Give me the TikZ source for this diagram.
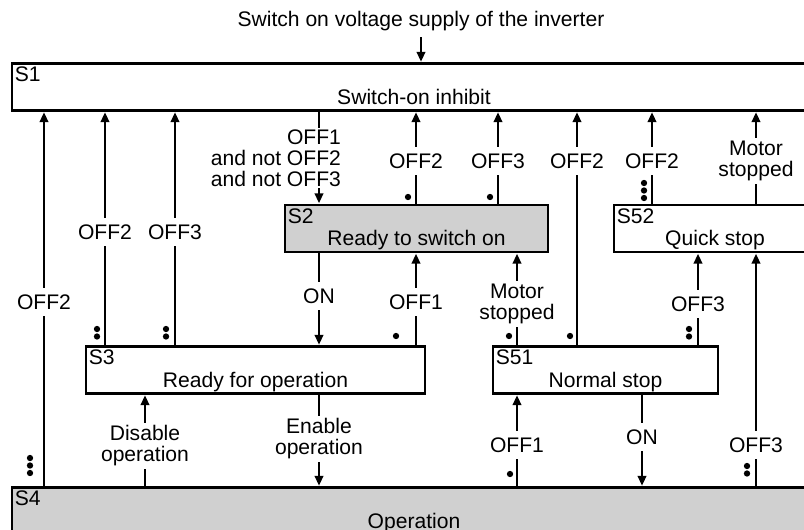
\documentclass[tikz,border=0pt]{standalone}
\usepackage{fontspec}
\setmainfont{Liberation Sans}
\usetikzlibrary{arrows.meta}
\definecolor{stategray}{HTML}{D0D0D0}

\begin{document}
\begin{tikzpicture}[
    x=0.02cm, y=-0.02cm,
    every node/.style={font=\fontsize{12}{12}\selectfont},
    statebox/.style={draw, line width=1.2pt, inner sep=0pt, minimum height=0.94cm},
    sid/.style={anchor=north west, inner xsep=2pt, inner ysep=2.5pt},
    stitle/.style={anchor=base},
    tr/.style={line width=0.7pt, shorten >=0.5pt, -{Triangle[length=5.5pt,width=5pt]}},
    lbl/.style={fill=white, align=center, inner xsep=1pt, inner ysep=4pt},
    lbltwo/.style={lbl, inner ysep=1.5pt},
  ]
  \useasboundingbox (0,0) rectangle (804,530);
  \clip (0,0) rectangle (804,530);

  % states: name/centre x/centre y/width/fill/number/title
  \foreach \n/\cx/\cy/\w/\col/\id/\txt in {
      s1/414/87/16.08/white/S1/Switch-on inhibit,
      s2/416.5/228.5/5.26/stategray/S2/Ready to switch on,
      s52/715/228.5/4.04/white/S52/Quick stop,
      s3/255.5/370/6.78/white/S3/Ready for operation,
      s51/605.5/370/4.5/white/S51/Normal stop,
      s4/414/511/16.08/stategray/S4/Operation}{
    \node[statebox, fill=\col, minimum width=\w cm] (\n) at (\cx,\cy) {};
    \node[sid] (\n-id) at (\n.north west) {\id};
    \node[stitle] (\n-txt) at ([yshift=0.15cm]\n.south) {\txt};
  }

  \node (supply) at (421,21) {Switch on voltage supply of the inverter};
  \draw[tr] (supply) -- (s1.north -| supply);

  % transitions: start/end/x
  \foreach \a/\b/\xx in {
      s4.north/s1.south/44, s3.north/s1.south/105, s3.north/s1.south/175,
      s1.south/s2.north/319, s2.north/s1.south/416, s2.north/s1.south/498,
      s51.north/s1.south/577, s52.north/s1.south/652, s52.north/s1.south/756,
      s2.south/s3.north/319, s3.north/s2.south/416, s51.north/s2.south/517,
      s51.north/s52.south/698, s4.north/s3.south/145, s3.south/s4.north/319,
      s4.north/s51.south/517, s51.south/s4.north/642, s4.north/s52.south/756}
    \draw[tr] (\a -| \xx,0) -- (\b -| \xx,0);

  % conditions on the transitions
  \foreach \xx/\yy/\s/\t [count=\i] in {
      44/302/lbl/OFF2, 105/232/lbl/OFF2, 175/232/lbl/OFF3,
      416/161/lbl/OFF2, 498/161/lbl/OFF3, 577/161/lbl/OFF2,
      652/161/lbl/OFF2, 756/161/lbltwo/{Motor\\stopped},
      319/296/lbl/ON, 416/302/lbl/OFF1, 517/304/lbltwo/{Motor\\stopped},
      698/304/lbl/OFF3, 145/446/lbltwo/{Disable\\operation},
      319/439/lbltwo/{Enable\\operation}, 517/445/lbl/OFF1,
      642/437/lbl/ON, 756/445/lbl/OFF3}
    \node[\s] (cond\i) at (\xx,\yy) {\t};
  \node[lbl, align=right, anchor=east, inner ysep=1pt] (cond0) at (343,158)
    {OFF1\\and not OFF2\\and not OFF3};

  % priority dots: x/top y/count
  \foreach \px/\py/\nd in {30/458/3, 97/329/2, 166/329/2, 408/197/1,
      490/197/1, 570/336/1, 644/183/3, 396/336/1, 509/336/1,
      689/329/2, 510/474/1, 747/466/2}{
    \foreach \k in {1,...,\nd}
      \fill ({\px},{\py+7.5*(\k-1)}) circle (1.8pt);
  }
\end{tikzpicture}
\end{document}
